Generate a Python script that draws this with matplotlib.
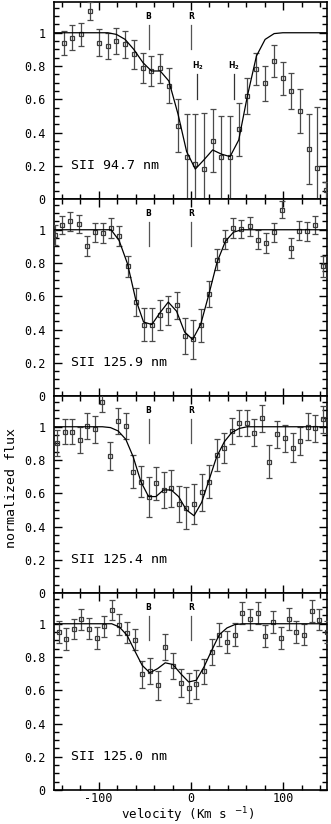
import matplotlib
matplotlib.use("Agg")
import matplotlib.pyplot as plt
from matplotlib.ticker import MultipleLocator, FixedLocator, FixedFormatter

# ---------------- data ----------------
labels = ["SII 94.7 nm", "SII 125.9 nm", "SII 125.4 nm", "SII 125.0 nm"]

v1 = [-138, -128.6, -118.8, -109.4, -100, -90.2, -80.8, -71.4, -62, -52, -42.8, -33.3,
      -24, -14, -4.7, 4.7, 14, 23.5, 33, 42.4, 51.8, 61.2, 71, 80.4, 90.2, 99.6, 109,
      118.5, 128, 137, 146.7]
f1 = [0.94, 0.97, 0.99, 1.13, 0.94, 0.92, 0.95, 0.93, 0.87, 0.79, 0.77, 0.785, 0.68,
      0.44, 0.25, 0.21, 0.18, 0.35, 0.25, 0.25, 0.42, 0.62, 0.78, 0.695, 0.83, 0.725,
      0.65, 0.53, 0.30, 0.185, 0.054]
e1 = [0.073, 0.075, 0.07, 0.056, 0.08, 0.08, 0.08, 0.083, 0.086, 0.09, 0.092, 0.09,
      0.105, 0.16, 0.26, 0.30, 0.34, 0.19, 0.25, 0.25, 0.16, 0.11, 0.097, 0.105, 0.095,
      0.10, 0.11, 0.133, 0.21, 0.37, 0.05]
mv1 = [-148.5, -100, -90.2, -80.8, -71.4, -62, -52, -42.8, -33.3, -24, -14, -4.7, 4.7, 14,
       23.5, 33, 42.4, 51.8, 61.2, 71, 80.4, 90.2, 99.6, 147.5]
m1 = [1.0, 1.0, 1.0, 0.99, 0.96, 0.90, 0.82, 0.77, 0.77, 0.71, 0.51, 0.285, 0.18, 0.235,
      0.295, 0.27, 0.255, 0.355, 0.62, 0.86, 0.96, 0.995, 1.0, 1.0]

v2 = [-147.8, -139.9, -130.8, -121.4, -112.7, -104.3, -95.3, -86.6, -77.9, -68.8, -60.1,
      -51.4, -42.4, -33.7, -24.6, -15.6, -6.9, 1.8, 10.5, 19.6, 28.3, 37.3, 46, 54.7,
      63.8, 72.5, 81.2, 90.2, 98.9, 108, 116.7, 125.7, 134.8, 143]
f2 = [0.97, 1.03, 1.05, 1.035, 0.905, 0.985, 0.98, 1.01, 0.96, 0.78, 0.565, 0.43, 0.43,
      0.49, 0.515, 0.545, 0.36, 0.34, 0.425, 0.615, 0.82, 0.94, 1.01, 1.005, 1.02, 0.94,
      0.92, 0.985, 1.12, 0.89, 0.995, 0.99, 1.03, 0.78]
e2 = [0.06, 0.055, 0.055, 0.055, 0.06, 0.058, 0.058, 0.058, 0.06, 0.065, 0.083, 0.10,
      0.10, 0.09, 0.085, 0.083, 0.11, 0.12, 0.10, 0.077, 0.063, 0.058, 0.058, 0.055,
      0.055, 0.058, 0.058, 0.058, 0.05, 0.06, 0.057, 0.057, 0.054, 0.065]
mv2 = [-148.5, -95.3, -86.6, -77.9, -68.8, -60.1, -51.4, -42.4, -33.7, -24.6, -15.6, -6.9,
       1.8, 10.5, 19.6, 28.3, 37.3, 46, 54.7, 147.5]
m2 = [1.0, 1.0, 1.0, 0.935, 0.795, 0.585, 0.445, 0.43, 0.50, 0.565, 0.51, 0.385, 0.34,
      0.43, 0.615, 0.805, 0.93, 0.985, 1.0, 1.0]

v3 = [-145.3, -137, -128.6, -120.7, -112.3, -103.6, -96, -87.3, -79, -70.7, -62.7, -54.3,
      -46, -38, -29.7, -21.4, -13.4, -5, 3.3, 11.6, 19.6, 27.9, 36.2, 44.2, 52.5, 60.9,
      68.8, 77.2, 85.1, 93.5, 101.8, 110.1, 118.5, 126.4, 134.8, 143]
f3 = [0.90, 0.97, 0.97, 0.92, 1.005, 0.985, 1.15, 0.825, 1.035, 1.005, 0.73, 0.67, 0.58,
      0.66, 0.62, 0.63, 0.535, 0.51, 0.535, 0.605, 0.67, 0.83, 0.87, 0.975, 1.025, 1.025,
      0.965, 1.05, 0.79, 0.955, 0.93, 0.875, 0.915, 1.0, 0.99, 1.045]
e3 = [0.078, 0.076, 0.076, 0.08, 0.078, 0.08, 0.062, 0.085, 0.076, 0.079, 0.10, 0.095,
      0.12, 0.10, 0.11, 0.11, 0.11, 0.125, 0.12, 0.11, 0.10, 0.095, 0.09, 0.08, 0.078,
      0.078, 0.08, 0.082, 0.10, 0.08, 0.083, 0.09, 0.085, 0.08, 0.082, 0.08]
mv3 = [-148.5, -96, -87.3, -79, -70.7, -62.7, -54.3, -46, -38, -29.7, -21.4, -13.4, -5,
       3.3, 11.6, 19.6, 27.9, 36.2, 44.2, 52.5, 60.9, 147.5]
m3 = [1.0, 1.0, 0.995, 0.975, 0.925, 0.82, 0.67, 0.58, 0.58, 0.62, 0.62, 0.58, 0.50, 0.465,
      0.545, 0.68, 0.82, 0.91, 0.965, 0.99, 1.0, 1.0]

v4 = [-143.5, -135.1, -127.2, -118.8, -110.5, -102.2, -94.2, -85.9, -77.5, -69.2, -61.2,
      -52.9, -44.6, -36.2, -27.9, -19.6, -11.2, -2.5, 5.8, 14.1, 22.5, 30.8, 39.1, 47.5,
      55.8, 64.1, 72.5, 80.8, 89.1, 97.5, 105.8, 114.1, 122.5, 130.8, 139.1, 147.5]
f4 = [0.95, 0.91, 0.97, 1.026, 0.97, 0.915, 0.985, 1.085, 0.995, 0.945, 0.905, 0.695,
      0.715, 0.63, 0.86, 0.745, 0.645, 0.615, 0.635, 0.715, 0.83, 0.935, 0.89, 0.935,
      1.065, 1.026, 1.065, 0.925, 1.01, 0.915, 1.03, 0.95, 0.935, 1.075, 1.025, 0.95]
e4 = [0.064, 0.066, 0.06, 0.063, 0.062, 0.065, 0.063, 0.06, 0.065, 0.063, 0.065, 0.08,
      0.08, 0.088, 0.076, 0.078, 0.085, 0.09, 0.087, 0.075, 0.076, 0.067, 0.068, 0.067,
      0.067, 0.065, 0.067, 0.065, 0.064, 0.067, 0.065, 0.065, 0.065, 0.065, 0.065, 0.065]
mv4 = [-148.5, -94.2, -85.9, -77.5, -69.2, -61.2, -52.9, -44.6, -36.2, -27.9, -19.6, -11.2,
       -2.5, 5.8, 14.1, 22.5, 30.8, 39.1, 47.5, 55.8, 147.5]
m4 = [1.0, 1.0, 1.0, 0.98, 0.93, 0.84, 0.75, 0.705, 0.73, 0.765, 0.755, 0.70, 0.65, 0.66,
      0.74, 0.84, 0.935, 0.975, 0.995, 1.0, 1.0]

v_B, v_R = -46, 0
v_H2 = [7, 47]

yticks = [0, 0.2, 0.4, 0.6, 0.8, 1.0]
ytick_labels = ["0", "0.2", "0.4", "0.6", "0.8", "1"]
xticks = [-100, 0, 100]
xtick_labels = ["-100", "0", "100"]

panels = [(v1, f1, e1, mv1, m1), (v2, f2, e2, mv2, m2),
          (v3, f3, e3, mv3, m3), (v4, f4, e4, mv4, m4)]

# ---------------- figure ----------------
W, H = 331, 824
fig = plt.figure(figsize=(W / 100, H / 100), dpi=100)
left_px, right_px = 54, 327
top_px, bot_px = 2, 790
ph = (bot_px - top_px) / 4

mono = "DejaVu Sans Mono"
for i, (v, f, e, mv, m) in enumerate(panels):
    t = top_px + i * ph
    ax = fig.add_axes([left_px / W, 1 - (t + ph) / H, (right_px - left_px) / W, ph / H])
    ax.set_xlim(-148.5, 147.5)
    ax.set_ylim(0, 1.185)
    ax.errorbar(v, f, yerr=e, fmt="s", ms=3.4, mfc="none", mec="#3a3a3a", mew=0.9,
                ecolor="#4a4a4a", elinewidth=0.9, capsize=2.2, capthick=0.9, zorder=3)
    ax.plot(mv, m, color="black", lw=0.9, zorder=4)
    # B / R markers
    for vv, lab in [(v_B, "B"), (v_R, "R")]:
        ax.plot([vv, vv], [0.90, 1.045], color="#555555", lw=0.9)
        ax.text(vv, 1.098, lab, ha="center", va="center", fontsize=5.5,
                fontweight="bold", family="DejaVu Sans")
    if i == 0:
        for vv in v_H2:
            ax.plot([vv, vv], [0.60, 0.75], color="#333333", lw=0.9)
            ax.text(vv, 0.80, "H$_\\mathbf{2}$", ha="center", va="center", fontsize=5.5,
                    fontweight="bold", family="DejaVu Sans")
    ax.text(-130, 0.2, labels[i], ha="left", va="center", fontsize=9.5, family=mono)
    ax.yaxis.set_major_locator(FixedLocator(yticks))
    ax.yaxis.set_major_formatter(FixedFormatter(ytick_labels))
    ax.yaxis.set_minor_locator(MultipleLocator(0.05))
    ax.xaxis.set_major_locator(FixedLocator(xticks))
    ax.xaxis.set_minor_locator(MultipleLocator(20))
    ax.tick_params(which="both", direction="in", top=True, right=True, width=1.0,
                   labelsize=8.5)
    ax.tick_params(axis="y", which="major", pad=6)
    ax.tick_params(axis="x", which="major", pad=1.5)
    ax.tick_params(which="major", length=6)
    ax.tick_params(which="minor", length=3.5)
    for lab in ax.get_yticklabels():
        lab.set_family(mono)
    for sp in ax.spines.values():
        sp.set_linewidth(1.2)
    if i < 3:
        ax.set_xticklabels([])
    else:
        ax.set_xticklabels(xtick_labels, family=mono, fontsize=8.5)

fig.text(188 / W, 1 - 819.5 / H, "velocity (Km s $^{-1}$)", ha="center", va="baseline",
         fontsize=9, family=mono)
fig.text(12 / W, 1 - 488 / H, "normalized flux", rotation=90, ha="center", va="center",
         fontsize=9.5, family=mono)

fig.savefig("out.png", dpi=100)
